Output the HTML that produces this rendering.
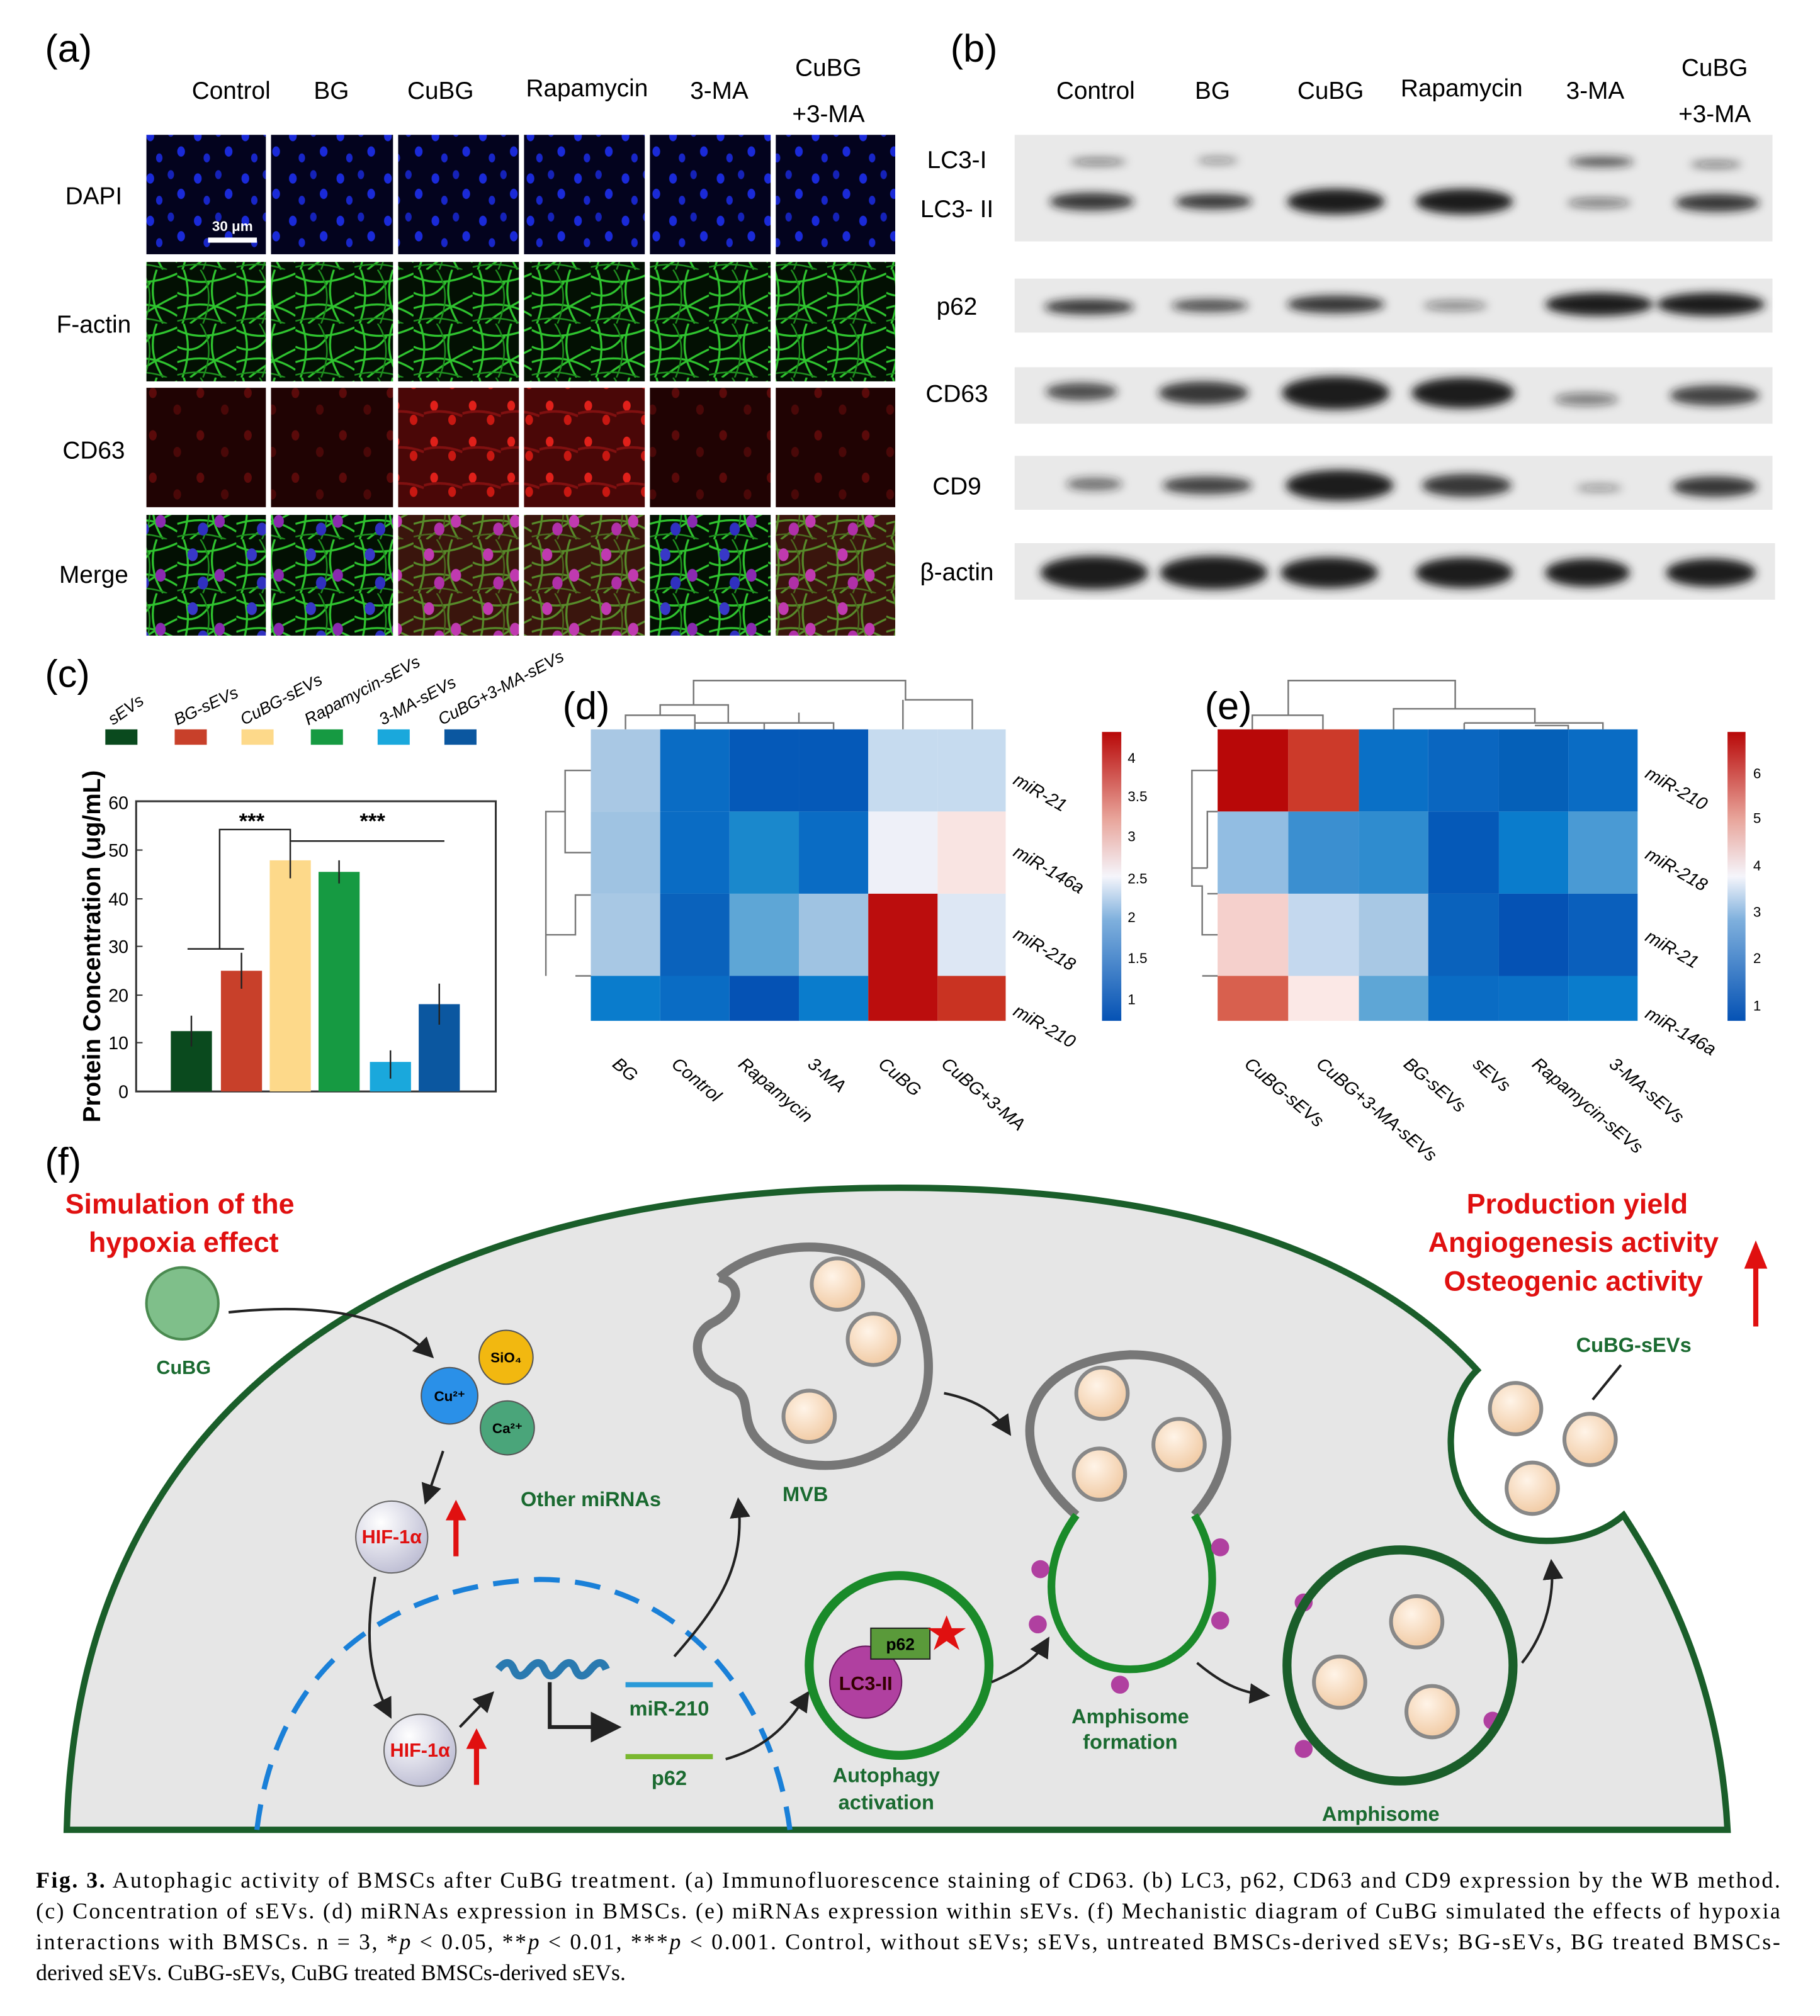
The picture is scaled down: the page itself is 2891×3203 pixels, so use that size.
<!DOCTYPE html>
<html><head><meta charset="utf-8"><style>
html,body{margin:0;padding:0;background:#fff;}
svg{display:block;}
.s{font-family:"Liberation Sans",sans-serif;}
.b{font-family:"Liberation Sans",sans-serif;font-weight:bold;}
.r{font-family:"Liberation Serif",serif;}
</style></head><body>
<svg width="2891" height="3203" viewBox="0 0 1417 1570" preserveAspectRatio="none" xmlns="http://www.w3.org/2000/svg">
<defs>
<filter id="bl" x="-30%" y="-100%" width="160%" height="300%"><feGaussianBlur stdDeviation="3.5"/></filter>
<pattern id="dapi" width="37" height="33" patternUnits="userSpaceOnUse">
<rect width="37" height="33" fill="#03031e"/>
<ellipse cx="6" cy="7" rx="3" ry="4" fill="#1a2ad8"/><ellipse cx="22" cy="4" rx="2.5" ry="3.5" fill="#1522b8"/>
<ellipse cx="30" cy="19" rx="3" ry="4" fill="#1a2ad8"/><ellipse cx="13" cy="24" rx="2.5" ry="3.5" fill="#1826c8"/>
</pattern>
<pattern id="act" width="46" height="42" patternUnits="userSpaceOnUse">
<rect width="46" height="42" fill="#031003"/>
<path d="M0 5 Q20 15 46 3 M5 0 Q12 20 4 42 M0 30 Q25 22 46 36 M30 0 Q22 22 35 42 M10 42 Q25 30 46 20 M0 18 Q15 25 25 10" stroke="#2fc42f" stroke-width="1.6" fill="none"/>
<path d="M18 0 Q30 18 20 42 M0 40 Q20 35 38 42" stroke="#1f8f1f" stroke-width="1.2" fill="none"/>
</pattern>
<pattern id="cd" width="37" height="33" patternUnits="userSpaceOnUse">
<rect width="37" height="33" fill="#200303"/>
<ellipse cx="8" cy="9" rx="3" ry="4" fill="#5a0a0a"/><ellipse cx="27" cy="22" rx="3" ry="4" fill="#4a0808"/>
</pattern>
<pattern id="cdh" width="30" height="28" patternUnits="userSpaceOnUse">
<rect width="30" height="28" fill="#4a0707"/>
<ellipse cx="8" cy="8" rx="3" ry="4" fill="#e0201a"/><ellipse cx="22" cy="19" rx="3" ry="4" fill="#c81812"/>
<path d="M0 14 Q15 10 30 16" stroke="#801010" stroke-width="2" fill="none"/>
</pattern>
<pattern id="mrg" width="46" height="42" patternUnits="userSpaceOnUse">
<rect width="46" height="42" fill="url(#act)"/>
<ellipse cx="12" cy="12" rx="4" ry="5" fill="#3838c8"/><ellipse cx="33" cy="28" rx="4" ry="5" fill="#8a2ab0"/><ellipse cx="20" cy="34" rx="4" ry="5" fill="#3030c0"/>
</pattern>
<pattern id="mrg2" width="46" height="42" patternUnits="userSpaceOnUse">
<rect width="46" height="42" fill="url(#act)"/>
<rect width="46" height="42" fill="#a02020" opacity="0.35"/>
<ellipse cx="12" cy="12" rx="4" ry="5" fill="#c03ab0"/><ellipse cx="33" cy="28" rx="4" ry="5" fill="#c03ab0"/><ellipse cx="20" cy="34" rx="4" ry="5" fill="#b030a8"/>
</pattern>
<linearGradient id="cb1" x1="0" y1="1" x2="0" y2="0">
<stop offset="0" stop-color="#0552b4"/><stop offset="0.35" stop-color="#7fb0dd"/><stop offset="0.5" stop-color="#f5f5fb"/><stop offset="0.7" stop-color="#e8a49a"/><stop offset="1" stop-color="#b80808"/></linearGradient>
<radialGradient id="sph" cx="0.35" cy="0.3" r="0.8"><stop offset="0" stop-color="#fff"/><stop offset="1" stop-color="#b8b8d0"/></radialGradient>
<radialGradient id="ves" cx="0.4" cy="0.35" r="0.7"><stop offset="0" stop-color="#fff4e8"/><stop offset="1" stop-color="#f0c8a0"/></radialGradient>
<marker id="ar" markerWidth="8" markerHeight="8" refX="6" refY="4" orient="auto"><path d="M0 0 L8 4 L0 8z" fill="#222"/></marker>
</defs>
<rect width="1417" height="1570" fill="#fff"/>

<!-- (a) -->
<text x="35" y="48" class="s" font-size="30">(a)</text>
<g class="s" font-size="19" text-anchor="middle">
<text x="180" y="77">Control</text><text x="258" y="77">BG</text><text x="343" y="77">CuBG</text><text x="457" y="75">Rapamycin</text><text x="560" y="77">3-MA</text><text x="645" y="59">CuBG</text><text x="645" y="95">+3-MA</text>
<text x="73" y="159">DAPI</text><text x="73" y="259">F-actin</text><text x="73" y="357">CD63</text><text x="73" y="454">Merge</text>
</g>
<g>
<rect x="114" y="105" width="93" height="93" fill="url(#dapi)"/><rect x="211" y="105" width="95" height="93" fill="url(#dapi)"/><rect x="310" y="105" width="94" height="93" fill="url(#dapi)"/><rect x="408" y="105" width="94" height="93" fill="url(#dapi)"/><rect x="506" y="105" width="94" height="93" fill="url(#dapi)"/><rect x="604" y="105" width="93" height="93" fill="url(#dapi)"/>
<rect x="114" y="204" width="93" height="93" fill="url(#act)"/><rect x="211" y="204" width="95" height="93" fill="url(#act)"/><rect x="310" y="204" width="94" height="93" fill="url(#act)"/><rect x="408" y="204" width="94" height="93" fill="url(#act)"/><rect x="506" y="204" width="94" height="93" fill="url(#act)"/><rect x="604" y="204" width="93" height="93" fill="url(#act)"/>
<rect x="114" y="302" width="93" height="93" fill="url(#cd)"/><rect x="211" y="302" width="95" height="93" fill="url(#cd)"/><rect x="310" y="302" width="94" height="93" fill="url(#cdh)"/><rect x="408" y="302" width="94" height="93" fill="url(#cdh)"/><rect x="506" y="302" width="94" height="93" fill="url(#cd)"/><rect x="604" y="302" width="93" height="93" fill="url(#cd)"/>
<rect x="114" y="401" width="93" height="94" fill="url(#mrg)"/><rect x="211" y="401" width="95" height="94" fill="url(#mrg)"/><rect x="310" y="401" width="94" height="94" fill="url(#mrg2)"/><rect x="408" y="401" width="94" height="94" fill="url(#mrg2)"/><rect x="506" y="401" width="94" height="94" fill="url(#mrg)"/><rect x="604" y="401" width="93" height="94" fill="url(#mrg2)"/>
<rect x="162" y="185" width="38" height="4" fill="#fff"/>
<text x="181" y="180" class="b" font-size="11" fill="#fff" text-anchor="middle">30 μm</text>
</g>

<!-- (b) -->
<text x="740" y="48" class="s" font-size="30">(b)</text>
<g class="s" font-size="19" text-anchor="middle">
<text x="853" y="77">Control</text><text x="944" y="77">BG</text><text x="1036" y="77">CuBG</text><text x="1138" y="75">Rapamycin</text><text x="1242" y="77">3-MA</text><text x="1335" y="59">CuBG</text><text x="1335" y="95">+3-MA</text>
<text x="745" y="131">LC3-I</text><text x="745" y="169">LC3- II</text><text x="745" y="245">p62</text><text x="745" y="313">CD63</text><text x="745" y="385">CD9</text><text x="745" y="452">β-actin</text>
</g>
<g fill="#e9e9e9"><rect x="790" y="105" width="590" height="83"/><rect x="790" y="217" width="590" height="42"/><rect x="790" y="286" width="590" height="44"/><rect x="790" y="355" width="590" height="42"/><rect x="790" y="423" width="592" height="44"/></g>
<g fill="#1a1a1a" filter="url(#bl)">
<ellipse cx="855" cy="126" rx="22" ry="3" opacity="0.5"/><ellipse cx="948" cy="125" rx="16" ry="3" opacity="0.4"/><ellipse cx="1247" cy="126" rx="25" ry="4" opacity="0.7"/><ellipse cx="1336" cy="128" rx="20" ry="3" opacity="0.5"/>
<ellipse cx="850" cy="157" rx="33" ry="7" opacity="0.85"/><ellipse cx="945" cy="157" rx="30" ry="6" opacity="0.85"/><ellipse cx="1040" cy="157" rx="38" ry="10"/><ellipse cx="1140" cy="157" rx="38" ry="10"/><ellipse cx="1245" cy="158" rx="25" ry="4" opacity="0.5"/><ellipse cx="1337" cy="158" rx="33" ry="7" opacity="0.85"/>
<ellipse cx="848" cy="239" rx="35" ry="6" opacity="0.85"/><ellipse cx="942" cy="238" rx="30" ry="5" opacity="0.75"/><ellipse cx="1040" cy="237" rx="38" ry="7" opacity="0.85"/><ellipse cx="1133" cy="238" rx="25" ry="4" opacity="0.45"/><ellipse cx="1245" cy="237" rx="42" ry="9"/><ellipse cx="1332" cy="237" rx="42" ry="9"/>
<ellipse cx="842" cy="305" rx="28" ry="7" opacity="0.75"/><ellipse cx="937" cy="306" rx="35" ry="9" opacity="0.85"/><ellipse cx="1040" cy="306" rx="42" ry="13"/><ellipse cx="1139" cy="306" rx="40" ry="12"/><ellipse cx="1235" cy="311" rx="25" ry="5" opacity="0.5"/><ellipse cx="1335" cy="308" rx="35" ry="8" opacity="0.8"/>
<ellipse cx="852" cy="377" rx="22" ry="5" opacity="0.6"/><ellipse cx="940" cy="378" rx="35" ry="7" opacity="0.8"/><ellipse cx="1043" cy="378" rx="42" ry="12"/><ellipse cx="1142" cy="378" rx="35" ry="9" opacity="0.85"/><ellipse cx="1245" cy="380" rx="18" ry="3" opacity="0.4"/><ellipse cx="1335" cy="379" rx="33" ry="8" opacity="0.85"/>
<ellipse cx="852" cy="446" rx="42" ry="13"/><ellipse cx="945" cy="446" rx="42" ry="13"/><ellipse cx="1035" cy="446" rx="38" ry="12"/><ellipse cx="1140" cy="446" rx="38" ry="12"/><ellipse cx="1236" cy="446" rx="33" ry="11"/><ellipse cx="1332" cy="446" rx="35" ry="11"/>
</g>

<!-- (c) -->
<text x="35" y="535" class="s" font-size="30">(c)</text>
<g class="s" font-size="13" font-style="italic">
<text transform="translate(88,565) rotate(-35)">sEVs</text>
<text transform="translate(138,565) rotate(-25)">BG-sEVs</text>
<text transform="translate(190,565) rotate(-28)">CuBG-sEVs</text>
<text transform="translate(240,565) rotate(-28)">Rapamycin-sEVs</text>
<text transform="translate(298,565) rotate(-28)">3-MA-sEVs</text>
<text transform="translate(344,565) rotate(-28)">CuBG+3-MA-sEVs</text>
</g>
<rect x="82" y="568" width="25" height="12" fill="#0a4a1e"/><rect x="136" y="568" width="25" height="12" fill="#c8402a"/><rect x="188" y="568" width="25" height="12" fill="#fdd98a"/><rect x="242" y="568" width="25" height="12" fill="#169a42"/><rect x="294" y="568" width="25" height="12" fill="#1aa8dc"/><rect x="346" y="568" width="25" height="12" fill="#0b57a0"/>
<rect x="106" y="624" width="280" height="226" fill="none" stroke="#333" stroke-width="1.5"/>
<g class="s" font-size="14" text-anchor="end">
<text x="100" y="855">0</text><text x="100" y="817">10</text><text x="100" y="780">20</text><text x="100" y="742">30</text><text x="100" y="705">40</text><text x="100" y="667">50</text><text x="100" y="630">60</text></g>
<g stroke="#333"><line x1="106" y1="812" x2="111" y2="812"/><line x1="106" y1="775" x2="111" y2="775"/><line x1="106" y1="737" x2="111" y2="737"/><line x1="106" y1="700" x2="111" y2="700"/><line x1="106" y1="662" x2="111" y2="662"/></g>
<text transform="translate(78,737) rotate(-90)" class="b" font-size="19" text-anchor="middle">Protein Concentration (ug/mL)</text>
<rect x="133" y="803" width="32" height="47" fill="#0a4a1e"/>
<rect x="172" y="756" width="32" height="94" fill="#c8402a"/>
<rect x="210" y="670" width="32" height="180" fill="#fdd98a"/>
<rect x="248" y="679" width="32" height="171" fill="#169a42"/>
<rect x="288" y="827" width="32" height="23" fill="#1aa8dc"/>
<rect x="326" y="782" width="32" height="68" fill="#0b57a0"/>
<g stroke="#222" stroke-width="1.2">
<line x1="149" y1="791" x2="149" y2="815"/><line x1="188" y1="742" x2="188" y2="770"/><line x1="226" y1="656" x2="226" y2="684"/><line x1="264" y1="670" x2="264" y2="688"/><line x1="304" y1="818" x2="304" y2="840"/><line x1="342" y1="766" x2="342" y2="798"/>
<path d="M146 739 H190 M171 739 V646 H226 V656 M226 655 H346" fill="none"/>
</g>
<text x="196" y="645" class="b" font-size="17" text-anchor="middle">***</text>
<text x="290" y="645" class="b" font-size="17" text-anchor="middle">***</text>

<!-- (d) -->
<text x="438" y="560" class="s" font-size="30">(d)</text>
<g>
<rect x="460" y="568" width="54" height="64" fill="#a9c8e4"/><rect x="514" y="568" width="54" height="64" fill="#0a6cc4"/><rect x="568" y="568" width="54" height="64" fill="#0559b8"/><rect x="622" y="568" width="54" height="64" fill="#0559b8"/><rect x="676" y="568" width="54" height="64" fill="#c6dbef"/><rect x="730" y="568" width="53" height="64" fill="#c6dbef"/>
<rect x="460" y="632" width="54" height="64" fill="#9fc3e2"/><rect x="514" y="632" width="54" height="64" fill="#0a6cc4"/><rect x="568" y="632" width="54" height="64" fill="#1a88cc"/><rect x="622" y="632" width="54" height="64" fill="#0a6cc4"/><rect x="676" y="632" width="54" height="64" fill="#eef0f8"/><rect x="730" y="632" width="53" height="64" fill="#f9e4e2"/>
<rect x="460" y="696" width="54" height="64" fill="#a8c8e4"/><rect x="514" y="696" width="54" height="64" fill="#0a62bc"/><rect x="568" y="696" width="54" height="64" fill="#5ea6d6"/><rect x="622" y="696" width="54" height="64" fill="#9fc3e2"/><rect x="676" y="696" width="54" height="64" fill="#bb0d0d"/><rect x="730" y="696" width="53" height="64" fill="#dde7f4"/>
<rect x="460" y="760" width="54" height="35" fill="#0a7ccc"/><rect x="514" y="760" width="54" height="35" fill="#0a6cc4"/><rect x="568" y="760" width="54" height="35" fill="#0552b4"/><rect x="622" y="760" width="54" height="35" fill="#0a7ccc"/><rect x="676" y="760" width="54" height="35" fill="#bb0d0d"/><rect x="730" y="760" width="53" height="35" fill="#c93322"/>
</g>
<g stroke="#777" fill="none" stroke-width="1.2">
<path d="M487 568 V557 H541 V568 M514 557 V549 H567 V563 M541 563 H595 V568 M595 563 H649 V568 M540 549 V530 H705 V545 H757 V568 M703 545 H703 V568 M622 563 V555"/>
<path d="M460 600 H440 V664 H460 M440 632 H425 V728 H438 M438 728 H448 V697 H460 M448 760 H460 M425 728 V760"/>
</g>
<g class="s" font-size="14" font-style="italic">
<text transform="translate(788,610) rotate(30)">miR-21</text><text transform="translate(788,666) rotate(30)">miR-146a</text><text transform="translate(788,730) rotate(30)">miR-218</text><text transform="translate(788,790) rotate(30)">miR-210</text>
<text transform="translate(476,830) rotate(40)">BG</text><text transform="translate(522,830) rotate(40)">Control</text><text transform="translate(574,830) rotate(40)">Rapamycin</text><text transform="translate(628,830) rotate(40)">3-MA</text><text transform="translate(683,830) rotate(40)">CuBG</text><text transform="translate(732,830) rotate(40)">CuBG+3-MA</text>
</g>
<rect x="858" y="570" width="15" height="225" fill="url(#cb1)"/>
<g class="s" font-size="11"><text x="878" y="594">4</text><text x="878" y="624">3.5</text><text x="878" y="655">3</text><text x="878" y="688">2.5</text><text x="878" y="718">2</text><text x="878" y="750">1.5</text><text x="878" y="782">1</text></g>

<!-- (e) -->
<text x="938" y="560" class="s" font-size="30">(e)</text>
<g>
<rect x="948" y="568" width="55" height="64" fill="#b80808"/><rect x="1003" y="568" width="55" height="64" fill="#cc3a2a"/><rect x="1058" y="568" width="54" height="64" fill="#0a70c6"/><rect x="1112" y="568" width="55" height="64" fill="#0a66c0"/><rect x="1167" y="568" width="54" height="64" fill="#0560b8"/><rect x="1221" y="568" width="54" height="64" fill="#0a6cc4"/>
<rect x="948" y="632" width="55" height="64" fill="#92bde2"/><rect x="1003" y="632" width="55" height="64" fill="#3b8fd0"/><rect x="1058" y="632" width="54" height="64" fill="#2f8ccf"/><rect x="1112" y="632" width="55" height="64" fill="#0559b8"/><rect x="1167" y="632" width="54" height="64" fill="#0a7ccc"/><rect x="1221" y="632" width="54" height="64" fill="#4a9ad4"/>
<rect x="948" y="696" width="55" height="64" fill="#f5d0cc"/><rect x="1003" y="696" width="55" height="64" fill="#c4d8ee"/><rect x="1058" y="696" width="54" height="64" fill="#a8c8e4"/><rect x="1112" y="696" width="55" height="64" fill="#0a62bc"/><rect x="1167" y="696" width="54" height="64" fill="#0552b4"/><rect x="1221" y="696" width="54" height="64" fill="#0a5fbc"/>
<rect x="948" y="760" width="55" height="35" fill="#d8604e"/><rect x="1003" y="760" width="55" height="35" fill="#fbe8e6"/><rect x="1058" y="760" width="54" height="35" fill="#5ea6d6"/><rect x="1112" y="760" width="55" height="35" fill="#0a6cc4"/><rect x="1167" y="760" width="54" height="35" fill="#0a70c6"/><rect x="1221" y="760" width="54" height="35" fill="#0a7ccc"/>
</g>
<g stroke="#777" fill="none" stroke-width="1.2">
<path d="M975 568 V557 H1030 V568 M1003 557 V530 H1133 V552 M1085 568 V552 H1195 V563 M1140 563 H1248 V568 M1195 565 H1221 V568 M1140 563 V568"/>
<path d="M948 600 H928 V676 H940 M940 676 H940 V632 H948 M940 696 H948 M928 676 V690 H936 V728 H948 M936 760 H948"/>
</g>
<g class="s" font-size="14" font-style="italic">
<text transform="translate(1280,605) rotate(30)">miR-210</text><text transform="translate(1280,668) rotate(30)">miR-218</text><text transform="translate(1280,732) rotate(30)">miR-21</text><text transform="translate(1280,792) rotate(30)">miR-146a</text>
<text transform="translate(968,830) rotate(40)">CuBG-sEVs</text><text transform="translate(1024,830) rotate(40)">CuBG+3-MA-sEVs</text><text transform="translate(1092,830) rotate(40)">BG-sEVs</text><text transform="translate(1146,830) rotate(40)">sEVs</text><text transform="translate(1192,830) rotate(40)">Rapamycin-sEVs</text><text transform="translate(1252,830) rotate(40)">3-MA-sEVs</text>
</g>
<rect x="1345" y="570" width="14" height="225" fill="url(#cb1)"/>
<g class="s" font-size="11"><text x="1365" y="606">6</text><text x="1365" y="641">5</text><text x="1365" y="678">4</text><text x="1365" y="714">3</text><text x="1365" y="750">2</text><text x="1365" y="787">1</text></g>

<!-- (f) -->
<text x="35" y="915" class="s" font-size="30">(f)</text>
<path d="M52 1425 C 60 1100, 300 925, 700 925 C 950 925, 1080 990, 1150 1067 C 1115 1100, 1120 1200, 1204 1200 C 1230 1200, 1250 1192, 1264 1180 C 1310 1250, 1340 1330, 1345 1425 Z" fill="#e6e6e6" stroke="#1a5e2a" stroke-width="5"/>
<path d="M200 1425 C 215 1300, 300 1235, 420 1230 C 520 1230, 600 1310, 615 1425" fill="none" stroke="#1a80d8" stroke-width="4" stroke-dasharray="20 12"/>
<g class="b" fill="#e01010" text-anchor="middle" font-size="22">
<text x="140" y="945">Simulation of the</text><text x="143" y="975">hypoxia effect</text>
<text x="1228" y="945">Production yield</text><text x="1225" y="975">Angiogenesis activity</text><text x="1225" y="1005">Osteogenic activity</text>
</g>
<path d="M1367 1033 V985" stroke="#e01010" stroke-width="4"/><path d="M1358 988 L1367 966 L1376 988z" fill="#e01010"/>
<circle cx="142" cy="1015" r="28" fill="#7fbf8a" stroke="#4a8a50" stroke-width="2"/>
<text x="143" y="1070" class="b" font-size="15" fill="#1a6a30" text-anchor="middle">CuBG</text>
<path d="M178 1022 Q 290 1010 335 1055" stroke="#222" stroke-width="2" fill="none" marker-end="url(#ar)"/>
<circle cx="394" cy="1057" r="21" fill="#f2b810" stroke="#555"/><circle cx="350" cy="1087" r="22" fill="#2a90e8" stroke="#555"/><circle cx="395" cy="1112" r="21" fill="#4aa57a" stroke="#555"/>
<g class="b" font-size="11" text-anchor="middle"><text x="394" y="1061">SiO₄</text><text x="350" y="1091">Cu²⁺</text><text x="395" y="1116">Ca²⁺</text></g>
<path d="M345 1130 L 332 1168" stroke="#222" stroke-width="2" marker-end="url(#ar)"/>
<circle cx="305" cy="1197" r="28" fill="url(#sph)" stroke="#666"/>
<text x="305" y="1202" class="b" font-size="15" fill="#e01010" text-anchor="middle">HIF-1α</text>
<circle cx="327" cy="1363" r="28" fill="url(#sph)" stroke="#666"/>
<text x="327" y="1368" class="b" font-size="15" fill="#e01010" text-anchor="middle">HIF-1α</text>
<path d="M355 1212 V1180" stroke="#e01010" stroke-width="4"/><path d="M347 1184 L355 1168 L363 1184z" fill="#e01010"/>
<path d="M371 1390 V1358" stroke="#e01010" stroke-width="4"/><path d="M363 1362 L371 1346 L379 1362z" fill="#e01010"/>
<path d="M292 1228 C 285 1270, 285 1300, 303 1335" stroke="#222" stroke-width="2" fill="none" marker-end="url(#ar)"/>
<path d="M358 1345 L 382 1320" stroke="#222" stroke-width="2" marker-end="url(#ar)"/>
<path d="M388 1300 q8 -10 12 0 q4 10 12 0 q8 -10 12 0 q4 10 12 0 q8 -10 12 0 q4 10 12 0 q8 -10 12 0" stroke="#2a7ab0" stroke-width="6" fill="none"/>
<path d="M428 1310 V1345 H478" stroke="#222" stroke-width="3" fill="none" marker-end="url(#ar)"/>
<rect x="487" y="1310" width="68" height="4" fill="#2a9ad8"/><rect x="487" y="1366" width="68" height="4" fill="#7ab830"/>
<text x="521" y="1336" class="b" font-size="16" fill="#1a6a30" text-anchor="middle">miR-210</text>
<text x="521" y="1390" class="b" font-size="16" fill="#1a6a30" text-anchor="middle">p62</text>
<path d="M525 1290 C 560 1250, 580 1220, 575 1170" stroke="#222" stroke-width="2" fill="none" marker-end="url(#ar)"/>
<path d="M565 1370 C 600 1360, 615 1340, 628 1320" stroke="#222" stroke-width="2" fill="none" marker-end="url(#ar)"/>
<text x="460" y="1173" class="b" font-size="16" fill="#1a6a30" text-anchor="middle">Other miRNAs</text>
<text x="627" y="1169" class="b" font-size="16" fill="#1a6a30" text-anchor="middle">MVB</text>
<path d="M560 995 C 600 960, 700 955, 720 1040 C 740 1130, 650 1160, 600 1130 C 570 1110, 590 1090, 570 1080 C 540 1070, 535 1040, 555 1030 C 575 1020, 580 1000, 560 995" fill="#e6e6e6" stroke="#777" stroke-width="7"/>
<g fill="url(#ves)" stroke="#888" stroke-width="3"><circle cx="652" cy="1000" r="20"/><circle cx="680" cy="1043" r="20"/><circle cx="630" cy="1103" r="20"/>
<circle cx="858" cy="1085" r="20"/><circle cx="918" cy="1125" r="20"/><circle cx="856" cy="1148" r="20"/>
<circle cx="1180" cy="1097" r="20"/><circle cx="1238" cy="1121" r="20"/><circle cx="1193" cy="1159" r="20"/>
<circle cx="1103" cy="1263" r="20"/><circle cx="1043" cy="1310" r="20"/><circle cx="1115" cy="1333" r="20"/></g>
<path d="M735 1085 C 760 1090, 775 1100, 785 1115" stroke="#222" stroke-width="2" fill="none" marker-end="url(#ar)"/>
<path d="M838 1180 C 780 1130, 790 1060, 880 1055 C 960 1055, 975 1130, 930 1180" fill="none" stroke="#777" stroke-width="7"/>
<path d="M838 1180 C 800 1230, 820 1300, 880 1300 C 940 1300, 960 1230, 930 1180" fill="none" stroke="#1a8a2a" stroke-width="6"/>
<g fill="#b040a0"><circle cx="950" cy="1205" r="7"/><circle cx="810" cy="1222" r="7"/><circle cx="808" cy="1265" r="7"/><circle cx="950" cy="1262" r="7"/><circle cx="872" cy="1312" r="7"/>
<circle cx="1015" cy="1248" r="7"/><circle cx="1162" cy="1340" r="7"/><circle cx="1015" cy="1362" r="7"/></g>
<text x="880" y="1342" class="b" font-size="16" fill="#1a6a30" text-anchor="middle">Amphisome</text>
<text x="880" y="1362" class="b" font-size="16" fill="#1a6a30" text-anchor="middle">formation</text>
<circle cx="700" cy="1297" r="70" fill="none" stroke="#1a8a2a" stroke-width="7"/>
<circle cx="674" cy="1310" r="28" fill="#b040a0" stroke="#6a1a60"/>
<text x="674" y="1316" class="b" font-size="15" fill="#300" text-anchor="middle">LC3-II</text>
<rect x="678" y="1268" width="46" height="24" fill="#5a9a3a" stroke="#222"/>
<text x="701" y="1285" class="b" font-size="13" text-anchor="middle">p62</text>
<path d="M737 1258 l4 10 l11 0 l-9 6 l4 11 l-10 -7 l-10 7 l4 -11 l-9 -6 l11 0z" fill="#e01010"/>
<text x="690" y="1388" class="b" font-size="16" fill="#1a6a30" text-anchor="middle">Autophagy</text>
<text x="690" y="1409" class="b" font-size="16" fill="#1a6a30" text-anchor="middle">activation</text>
<path d="M772 1310 C 795 1300, 808 1290, 815 1278" stroke="#222" stroke-width="2" fill="none" marker-end="url(#ar)"/>
<path d="M932 1295 C 950 1310, 965 1318, 985 1320" stroke="#222" stroke-width="2" fill="none" marker-end="url(#ar)"/>
<ellipse cx="1090" cy="1297" rx="88" ry="90" fill="none" stroke="#1a5e2a" stroke-width="7"/>
<text x="1075" y="1418" class="b" font-size="16" fill="#1a6a30" text-anchor="middle">Amphisome</text>
<path d="M1185 1295 C 1205 1270, 1210 1240, 1208 1218" stroke="#222" stroke-width="2" fill="none" marker-end="url(#ar)"/>
<text x="1272" y="1053" class="b" font-size="16" fill="#1a6a30" text-anchor="middle">CuBG-sEVs</text>
<path d="M1262 1063 L1240 1090" stroke="#222" stroke-width="2"/>

<!-- caption -->
<g class="r" font-size="17.5">
<text x="28" y="1470" textLength="1358" lengthAdjust="spacing"><tspan font-weight="bold">Fig. 3.</tspan> Autophagic activity of BMSCs after CuBG treatment. (a) Immunofluorescence staining of CD63. (b) LC3, p62, CD63 and CD9 expression by the WB method.</text>
<text x="28" y="1494" textLength="1358" lengthAdjust="spacing">(c) Concentration of sEVs. (d) miRNAs expression in BMSCs. (e) miRNAs expression within sEVs. (f) Mechanistic diagram of CuBG simulated the effects of hypoxia</text>
<text x="28" y="1518" textLength="1358" lengthAdjust="spacing">interactions with BMSCs. n = 3, *<tspan font-style="italic">p</tspan> &lt; 0.05, **<tspan font-style="italic">p</tspan> &lt; 0.01, ***<tspan font-style="italic">p</tspan> &lt; 0.001. Control, without sEVs; sEVs, untreated BMSCs-derived sEVs; BG-sEVs, BG treated BMSCs-</text>
<text x="28" y="1542">derived sEVs. CuBG-sEVs, CuBG treated BMSCs-derived sEVs.</text>
</g>
</svg>
</body></html>
